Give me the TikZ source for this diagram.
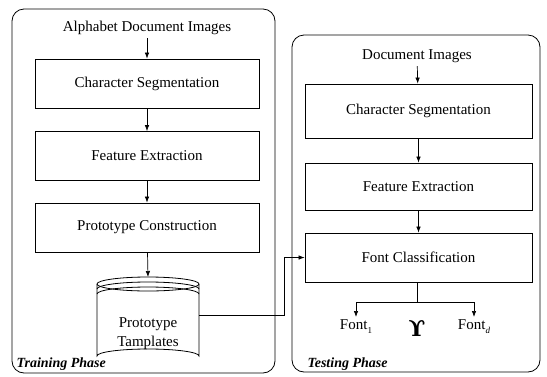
\documentclass[tikz,border=0pt]{standalone}
\usepackage{fontspec}
\setmainfont{Liberation Serif}
\newfontfamily\glyphfont{DejaVu Serif}
\usetikzlibrary{arrows.meta}
\begin{document}
\begin{tikzpicture}[x=1pt,y=-1pt,
  every node/.style={font=\fontsize{15}{18}\selectfont},
  stage/.style={draw, line width=0.8pt, minimum width=224pt, minimum height=49pt, inner sep=0pt},
  phase/.style={draw, line width=0.8pt, rounded corners=12pt},
  flow/.style={line width=0.7pt, -{Latex[length=6pt,width=4.5pt]}},
  phasetitle/.style={font=\fontsize{14}{16}\selectfont\bfseries\itshape, anchor=west}
]
\useasboundingbox (0,0) rectangle (547,376);

% phase frames
\draw[phase] (12,9) rectangle (275,373);
\draw[phase] (292,35) rectangle (540,372);
\node[phasetitle] (trainlbl) at (13,364) {Training Phase};
\node[phasetitle] (testlbl) at (304,364) {Testing Phase};

% training chain
\node (alpha) at (147,28) {Alphabet Document Images};
\node[stage] (cs1) at (147,83.5) {Character Segmentation};
\node[stage] (fe1) at (147,156) {Feature Extraction};
\node[stage] (pc1) at (147,227.5) {Prototype Construction};

% prototype database (cylinder)
\def\cx{148}\def\rx{51}\def\ry{7}
\draw[line width=0.8pt, fill=white]
  (\cx-\rx,284) -- (\cx-\rx,356) arc[start angle=180, end angle=360, x radius=\rx, y radius=\ry]
  -- (\cx+\rx,284);
\draw[line width=0.8pt] (\cx,284) ellipse[x radius=\rx, y radius=\ry];
\draw[line width=0.8pt] (\cx-\rx,284) ++(0,5) arc[start angle=180, end angle=360, x radius=\rx, y radius=\ry];
\draw[line width=0.8pt] (\cx-\rx,284) ++(0,10) arc[start angle=180, end angle=360, x radius=\rx, y radius=\ry];
\node[align=center, inner sep=0pt] (db) at (148,333.5)
  {Prototype\\[1pt]Tamplates};
\coordinate (dbtop) at (148,277);
\coordinate (dbout) at (199,315);
\coordinate (bend) at (284,257.5);

\draw[flow] (alpha) -- (cs1);
\draw[flow] (cs1) -- (fe1);
\draw[flow] (fe1) -- (pc1);
\draw[flow] (pc1) -- (dbtop);

% testing chain
\node (doc) at (417,56) {Document Images};
\node[stage, minimum width=227pt, minimum height=54pt] (cs2) at (418.5,111) {Character Segmentation};
\node[stage, minimum width=227pt, minimum height=47pt] (fe2) at (418.5,186.5) {Feature Extraction};
\node[stage, minimum width=227pt, minimum height=49pt] (fc) at (418.5,257.5) {Font Classification};

\draw[flow] (doc) -- (cs2);
\draw[flow] (cs2) -- (fe2);
\draw[flow] (fe2) -- (fc);

% templates feed the classifier
\draw[flow] (dbout) -| (bend) -- (fc.west);

% classifier outputs
\coordinate (split) at (417,302);
\coordinate (left) at (356,302);
\coordinate (right) at (474,302);
\node[anchor=north, inner sep=2pt] (f1) at (356,317) {Font\raisebox{-4pt}{\small 1}};
\node[anchor=north, inner sep=2pt] (fd) at (474,317) {Font\raisebox{-4pt}{\small\itshape d}};
\node (dots) at (417,328) {\glyphfont\bfseries\fontsize{22}{22}\selectfont ϒ};
\draw[line width=0.7pt] (fc.south -| split) -- (split);
\draw[line width=0.7pt] (left) -- (right);
\draw[flow] (left) -- (f1.north);
\draw[flow] (right) -- (fd.north);
\end{tikzpicture}
\end{document}
